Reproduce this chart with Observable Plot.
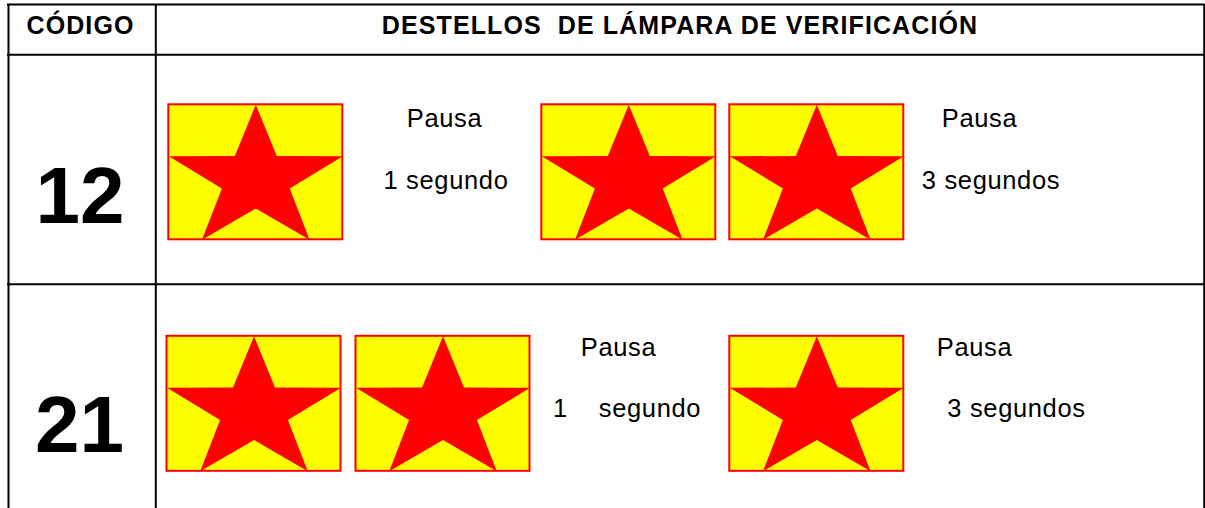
<!DOCTYPE html>
<html>
<head>
<meta charset="utf-8">
<script src="https://cdn.jsdelivr.net/npm/d3@7"></script>
<script src="https://cdn.jsdelivr.net/npm/@observablehq/plot@0.6"></script>
<style>
  html, body { margin: 0; padding: 0; background: #fff; }
  #chart svg { display: block; }
  #chart g[font-size="25"] { letter-spacing: 1.1px; }
  #chart g[font-size="25.5"] { letter-spacing: 0.65px; }
  #chart g[font-size="80"] { letter-spacing: 0px; }
</style>
</head>
<body>
<div id="chart"></div>
<script>
// ---------- DATA ----------
const headerLabels = ["CÓDIGO", "DESTELLOS\u00a0 DE LÁMPARA DE VERIFICACIÓN"];
const codes = ["12", "21"];
// number of flashes before the 1 s pause and before the 3 s pause
const flashGroups = [[1, 2], [2, 1]];
const pauseTitle = "Pausa";
const pauseDurations = [
  ["1 segundo", "3 segundos"],
  ["1\u00a0\u00a0\u00a0\u00a0segundo", "3 segundos"]
];

// ---------- LAYOUT ----------
const W = 1205, H = 508;
const table = {left: 8, colDiv: 155.3, right: 1203.7, top: 4, headBottom: 54.3, rowDiv: 283.7, bottom: H};
const headX = [80, 679.5], headBase = 33.3;
const codeX = [79.5, 79], codeBase = [222.7, 451.7];
const boxTop = [104.3, 335.8], boxW = 174, boxH = 135;
const flashLeft = [[168.3, 541.3, 729.3], [166.5, 355.5, 729.3]];
const pauseX = [[444, 979], [618, 974]];
const durX = [[445.5, 990.5], [552.5, 1016]];
const durAnchor = [["middle", "middle"], ["start", "middle"]];
const pauseBase = [126.5, 355.5], durBase = [188.3, 416.5];

// ---------- DERIVED TABLES ----------
const boxes = [];
codes.forEach((code, r) => {
  const n = flashGroups[r][0] + flashGroups[r][1];
  for (let i = 0; i < n; i++) {
    const x1 = flashLeft[r][i], y1 = boxTop[r];
    boxes.push({id: `${code}-${i}`, x1, x2: x1 + boxW, y1, y2: y1 + boxH});
  }
});

// five-pointed star template normalised to unit box
const rInner = 0.39;
const rawStar = d3.range(10).map(k => {
  const a = (-90 + k * 36) * Math.PI / 180, r = k % 2 ? rInner : 1;
  return [r * Math.cos(a), r * Math.sin(a)];
});
const sx = Math.cos(18 * Math.PI / 180), sy1 = -1, sy2 = Math.sin(54 * Math.PI / 180);
const starUnit = rawStar.map(([x, y]) => [(x + sx) / (2 * sx), (y - sy1) / (sy2 - sy1)]);
starUnit.push(starUnit[0]);
const starPts = boxes.flatMap(b => starUnit.map(([u, v]) => ({
  id: b.id, x: b.x1 + u * (b.x2 - b.x1), y: b.y1 + v * (b.y2 - b.y1)
})));

const texts = [];
headerLabels.forEach((t, i) => texts.push({t, x: headX[i], y: headBase, size: 25, weight: "bold", anchor: "middle"}));
codes.forEach((c, r) => texts.push({t: c, x: codeX[r], y: codeBase[r], size: 80, weight: "bold", anchor: "middle"}));
codes.forEach((c, r) => {
  pauseDurations[r].forEach((d, j) => {
    texts.push({t: pauseTitle, x: pauseX[r][j], y: pauseBase[r], size: 25.5, weight: "normal", anchor: "middle"});
    texts.push({t: d, x: durX[r][j], y: durBase[r], size: 25.5, weight: "normal", anchor: durAnchor[r][j]});
  });
});

const vRules = [
  {x: table.left, y1: table.top, y2: table.bottom},
  {x: table.colDiv, y1: table.top, y2: table.bottom},
  {x: table.right, y1: table.top, y2: table.bottom}
];
const hRules = [table.top, table.headBottom, table.rowDiv].map(y => ({y, x1: table.left - 1, x2: table.right + 1}));

const textMark = (anchor, weight, size) => Plot.text(
  texts.filter(d => d.anchor === anchor && d.weight === weight && d.size === size),
  {x: "x", y: "y", text: "t", textAnchor: anchor, lineAnchor: "bottom",
   fontSize: size, fontWeight: weight, fill: "#000"}
);

const plot = Plot.plot({
  width: W, height: H,
  margin: 0,
  x: {type: "identity", axis: null},
  y: {type: "identity", axis: null},
  style: {fontFamily: "'Liberation Sans', Arial, sans-serif", background: "#fff"},
  marks: [
    Plot.rect(boxes, {x1: "x1", x2: "x2", y1: "y1", y2: "y2", fill: "#ffff00"}),
    Plot.line(starPts, {x: "x", y: "y", z: "id", fill: "#ff0000", stroke: "none", curve: "linear"}),
    Plot.rect(boxes, {x1: "x1", x2: "x2", y1: "y1", y2: "y2", fill: "none", stroke: "#ff0000", strokeWidth: 2}),
    Plot.ruleX(vRules, {x: "x", y1: "y1", y2: "y2", stroke: "#000", strokeWidth: 2}),
    Plot.ruleY(hRules, {y: "y", x1: "x1", x2: "x2", stroke: "#000", strokeWidth: 2}),
    textMark("middle", "bold", 25),
    textMark("middle", "bold", 80),
    textMark("middle", "normal", 25.5),
    textMark("start", "normal", 25.5)
  ]
});
document.getElementById("chart").appendChild(plot);
</script>
</body>
</html>
